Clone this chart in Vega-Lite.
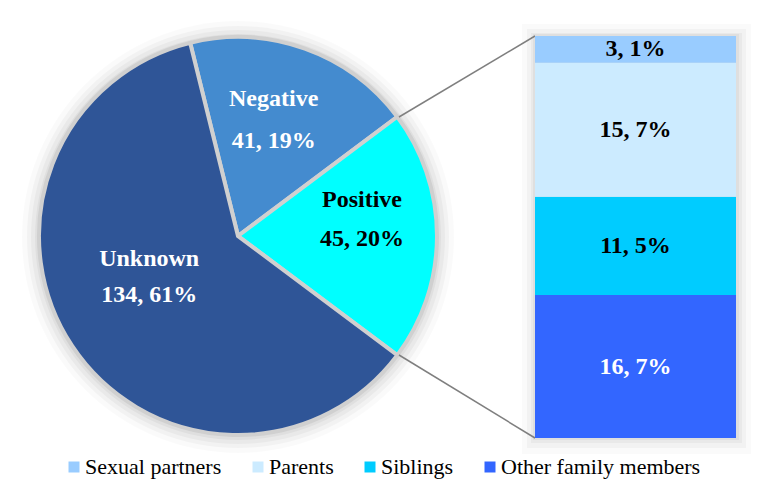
{
  "$schema": "https://vega.github.io/schema/vega-lite/v6.json",
  "width": 783,
  "height": 495,
  "autosize": "none",
  "padding": 0,
  "background": "white",
  "config": {
    "view": {"stroke": null},
    "legend": {"labelFont": "Liberation Serif"},
    "style": {"guide-label": {"font": "Liberation Serif"}}
  },
  "datasets": {
    "status": [
      {"category": "Negative", "count": 41, "pct": 19, "order": 1},
      {"category": "Positive", "count": 45, "pct": 20, "order": 2},
      {"category": "Unknown", "count": 134, "pct": 61, "order": 3}
    ],
    "contacts": [
      {"category": "Other family members", "count": 16, "pct": 7, "order": 1},
      {"category": "Siblings", "count": 11, "pct": 5, "order": 2},
      {"category": "Parents", "count": 15, "pct": 7, "order": 3},
      {"category": "Sexual partners", "count": 3, "pct": 1, "order": 4}
    ]
  },
  "layer": [
    {
      "data": {"values": [{}]},
      "layer": [
        {"mark": {"type": "arc", "radius": 216, "theta": 0, "theta2": 6.2832, "color": "#000000", "opacity": 0.02}, "encoding": {"x": {"value": 238}, "y": {"value": 237}}},
        {"mark": {"type": "arc", "radius": 211, "theta": 0, "theta2": 6.2832, "color": "#000000", "opacity": 0.03}, "encoding": {"x": {"value": 238}, "y": {"value": 237}}},
        {"mark": {"type": "arc", "radius": 207, "theta": 0, "theta2": 6.2832, "color": "#000000", "opacity": 0.035}, "encoding": {"x": {"value": 238}, "y": {"value": 237}}},
        {"mark": {"type": "arc", "radius": 203, "theta": 0, "theta2": 6.2832, "color": "#000000", "opacity": 0.04}, "encoding": {"x": {"value": 238}, "y": {"value": 237}}},
        {"mark": {"type": "rect", "color": "#000000", "opacity": 0.02}, "encoding": {"x": {"value": 522}, "x2": {"value": 751}, "y": {"value": 24}, "y2": {"value": 454}}},
        {"mark": {"type": "rect", "color": "#000000", "opacity": 0.03}, "encoding": {"x": {"value": 527}, "x2": {"value": 746}, "y": {"value": 29}, "y2": {"value": 448}}},
        {"mark": {"type": "rect", "color": "#000000", "opacity": 0.035}, "encoding": {"x": {"value": 531}, "x2": {"value": 742}, "y": {"value": 33}, "y2": {"value": 443}}},
        {"mark": {"type": "rect", "color": "#000000", "opacity": 0.04}, "encoding": {"x": {"value": 533}, "x2": {"value": 739}, "y": {"value": 34}, "y2": {"value": 440}}}
      ]
    },
    {
      "data": {"name": "status"},
      "transform": [
        {"stack": "count", "groupby": [], "sort": [{"field": "order"}], "as": ["a0", "a1"]}
      ],
      "mark": {"type": "arc", "outerRadius": 199, "stroke": "#D0D0D0", "strokeWidth": 4, "strokeJoin": "miter"},
      "encoding": {
        "x": {"value": 238},
        "y": {"value": 236},
        "theta": {"field": "a0", "type": "quantitative", "stack": null,
                  "scale": {"domain": [0, 220], "range": [-0.2428, 6.0404]}},
        "theta2": {"field": "a1"},
        "color": {
          "field": "category", "type": "nominal",
          "scale": {
            "domain": ["Unknown", "Negative", "Positive", "Sexual partners", "Parents", "Siblings", "Other family members"],
            "range": ["#2F5597", "#448BCF", "#00FFFF", "#99CCFF", "#CCEBFF", "#00CCFF", "#3366FF"]
          },
          "legend": {
            "title": null,
            "values": ["Sexual partners", "Parents", "Siblings", "Other family members"],
            "orient": "none",
            "legendX": 63,
            "legendY": 456,
            "direction": "horizontal",
            "columns": 4,
            "gridAlign": "each",
            "padding": 0,
            "symbolType": "square",
            "symbolSize": 121,
            "symbolStrokeWidth": 0,
            "labelFont": "Liberation Serif",
            "labelFontSize": 22,
            "labelColor": "#000000",
            "labelOffset": 0,
            "labelLimit": 300,
            "columnPadding": 25,
            "encode": {"labels": {"update": {"font": {"value": "Liberation Serif"}, "fontSize": {"value": 22}}}}
          }
        }
      }
    },
    {
      "data": {"name": "status"},
      "transform": [
        {"stack": "count", "groupby": [], "sort": [{"field": "order"}], "as": ["a0", "a1"]},
        {"calculate": "(datum.a0 + datum.a1) / 2", "as": "mid"},
        {"calculate": "datum.category + '\\n' + datum.count + ', ' + datum.pct + '%'", "as": "label"},
        {"filter": "datum.category == 'Negative'"}
      ],
      "mark": {"type": "text", "font": "Liberation Serif", "fontWeight": "bold", "fontSize": 24, "lineBreak": "\n", "lineHeight": 42, "color": "#FFFFFF", "dx": -5, "dy": -23},
      "encoding": {
        "x": {"value": 238},
        "y": {"value": 236},
        "theta": {"field": "mid", "type": "quantitative", "stack": null},
        "radius": {"value": 121},
        "text": {"field": "label"}
      }
    },
    {
      "data": {"name": "status"},
      "transform": [
        {"stack": "count", "groupby": [], "sort": [{"field": "order"}], "as": ["a0", "a1"]},
        {"calculate": "(datum.a0 + datum.a1) / 2", "as": "mid"},
        {"calculate": "datum.category + '\\n' + datum.count + ', ' + datum.pct + '%'", "as": "label"},
        {"filter": "datum.category == 'Positive'"}
      ],
      "mark": {"type": "text", "font": "Liberation Serif", "fontWeight": "bold", "fontSize": 24, "lineBreak": "\n", "lineHeight": 39, "color": "#000000", "dy": -36},
      "encoding": {
        "x": {"value": 238},
        "y": {"value": 236},
        "theta": {"field": "mid", "type": "quantitative", "stack": null},
        "radius": {"value": 124},
        "text": {"field": "label"}
      }
    },
    {
      "data": {"name": "status"},
      "transform": [
        {"stack": "count", "groupby": [], "sort": [{"field": "order"}], "as": ["a0", "a1"]},
        {"calculate": "(datum.a0 + datum.a1) / 2", "as": "mid"},
        {"calculate": "datum.category + '\\n' + datum.count + ', ' + datum.pct + '%'", "as": "label"},
        {"filter": "datum.category == 'Unknown'"}
      ],
      "mark": {"type": "text", "font": "Liberation Serif", "fontWeight": "bold", "fontSize": 24, "lineBreak": "\n", "lineHeight": 36, "color": "#FFFFFF", "dx": -8, "dy": -31},
      "encoding": {
        "x": {"value": 238},
        "y": {"value": 236},
        "theta": {"field": "mid", "type": "quantitative", "stack": null},
        "radius": {"value": 97},
        "text": {"field": "label"}
      }
    },
    {
      "data": {"values": [{}]},
      "mark": {"type": "rule", "color": "#7F7F7F", "strokeWidth": 1.5},
      "encoding": {
        "x": {"value": 399}, "y": {"value": 117},
        "x2": {"value": 535}, "y2": {"value": 36}
      }
    },
    {
      "data": {"values": [{}]},
      "mark": {"type": "rule", "color": "#7F7F7F", "strokeWidth": 1.5},
      "encoding": {
        "x": {"value": 399}, "y": {"value": 355},
        "x2": {"value": 535}, "y2": {"value": 438}
      }
    },
    {
      "data": {"name": "contacts"},
      "transform": [
        {"stack": "count", "groupby": [], "sort": [{"field": "order"}], "as": ["b0", "b1"]}
      ],
      "mark": {"type": "bar"},
      "encoding": {
        "x": {"value": 535},
        "x2": {"value": 736},
        "y": {"field": "b0", "type": "quantitative", "scale": {"domain": [0, 45], "range": [438, 36]}, "axis": null},
        "y2": {"field": "b1"},
        "color": {"field": "category", "type": "nominal"}
      }
    },
    {
      "data": {"name": "contacts"},
      "transform": [
        {"stack": "count", "groupby": [], "sort": [{"field": "order"}], "as": ["b0", "b1"]},
        {"calculate": "(datum.b0 + datum.b1) / 2", "as": "bmid"},
        {"calculate": "datum.count + ', ' + datum.pct + '%'", "as": "label"}
      ],
      "mark": {"type": "text", "font": "Liberation Serif", "fontWeight": "bold", "fontSize": 24, "baseline": "middle", "align": "center"},
      "encoding": {
        "x": {"value": 635.5},
        "y": {"field": "bmid", "type": "quantitative"},
        "text": {"field": "label"},
        "color": {
          "condition": {"test": "datum.category == 'Other family members'", "value": "#FFFFFF"},
          "value": "#000000"
        }
      }
    }
  ]
}
